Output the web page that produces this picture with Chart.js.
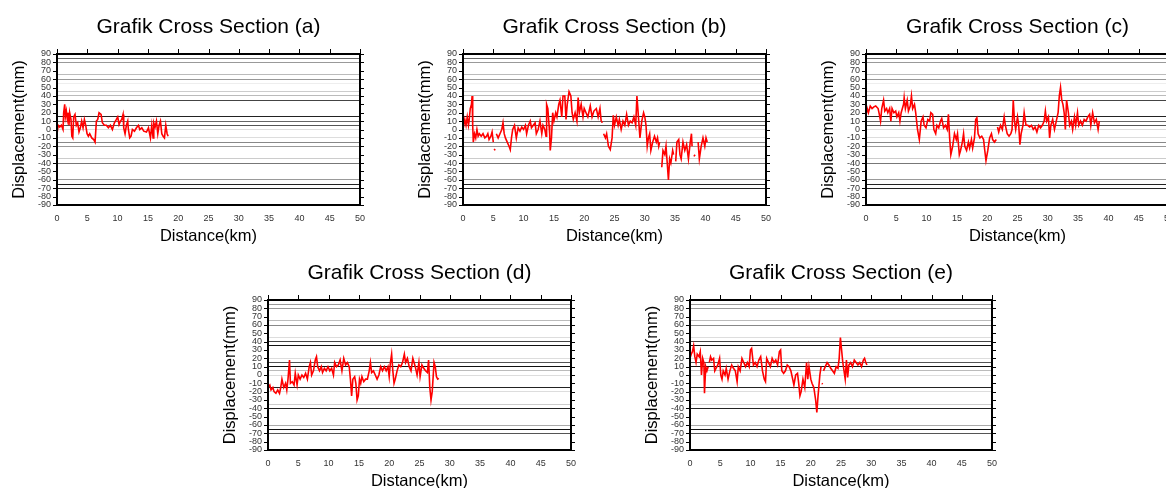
<!DOCTYPE html>
<html lang="en">

<head>
    <meta charset="UTF-8">
    <title>Grafik Cross Section</title>
    <style>
        html, body { margin: 0; padding: 0; background: #fff; overflow: hidden; width: 1166px; height: 488px; }
        canvas { position: absolute; }
    </style>
</head>

<body>
    <canvas id="panel-a" width="395" height="250" style="left:0px;top:0px"></canvas>
    <canvas id="panel-b" width="395" height="250" style="left:400px;top:0px"></canvas>
    <canvas id="panel-c" width="390" height="250" style="left:800px;top:0px"></canvas>
    <canvas id="panel-d" width="400" height="238" style="left:190px;top:250px"></canvas>
    <canvas id="panel-e" width="400" height="238" style="left:610px;top:250px"></canvas>
</body>

<script src="https://cdn.jsdelivr.net/npm/chart.js@4.4.1/dist/chart.umd.min.js"></script>

<script type="text/javascript" charset="utf-8">
    var distA = [0, 0.2, 0.45, 0.72, 0.99, 1.1, 1.27, 1.38, 1.54, 1.71, 1.87, 1.98, 2.09, 2.31, 2.45, 2.6, 2.75, 2.97, 3.19, 3.41,
        3.63, 3.85, 4.07, 4.3, 4.52, 4.74, 4.96, 5.18, 5.4, 5.73, 6.06, 6.28, 6.5, 6.72, 6.94, 7.27, 7.49, 7.82, 8.15, 8.48,
        8.81, 9.14, 9.47, 9.8, 10.02, 10.24, 10.46, 10.68, 10.9, 11.01, 11.23, 11.45, 11.67, 11.78, 12.0, 12.22, 12.44, 12.78, 13.11, 13.44,
        13.66, 13.99, 14.32, 14.76, 15.09, 15.42, 15.64, 15.86, 15.97, 16.19, 16.41, 16.63, 16.85, 17.07, 17.29, 17.51, 17.73, 17.95, 18.17, 18.34];
    var dispA = [-5, 5, 3, 5, 0, 20, 30, 15, 22, 12, 20, 5, 20, 12, -8, -10, 15, 18, 5, 8,
        -3, 2, 10, 2, 12, 5, -5, -8, -5, -10, -12, -15, 10, 12, 20, 18, 8, 5, 5, 2,
        5, 0, 8, 12, 15, 6, 10, 12, 18, 2, -5, 5, 10, 0, -10, -8, 0, -2, 2, 5,
        0, 2, -2, -3, 2, -10, 5, -10, 8, 3, 10, -5, 5, 10, -5, -8, -10, 5, -5, -8];

    var distB = [0, 0.3, 0.5, 0.7, 0.9, 1.0, 1.2, 1.4, 1.5, 1.6, 1.7, 1.9, 2.1, 2.3, 2.5, 2.7, 3.0, 3.3, 3.6, 3.9,
        4.1, 4.3, 4.6, 4.8, 5.0, 5.05, 5.15, 5.3, 5.4, 5.5, 5.8, 6.1, 6.4, 6.6, 6.8, 7.0, 7.3, 7.6, 7.8, 8.0,
        8.2, 8.5, 8.8, 9.1, 9.4, 9.7, 10.0, 10.3, 10.5, 10.8, 11.1, 11.3, 11.6, 11.9, 12.1, 12.4, 12.7, 13.0, 13.2, 13.5,
        13.7, 13.8, 14.0, 14.2, 14.3, 14.4, 14.6, 14.8, 15.0, 15.3, 15.5, 15.8, 16.0, 16.3, 16.5, 16.8, 17.0, 17.2, 17.5, 17.8,
        18.0, 18.2, 18.5, 18.8, 19.0, 19.2, 19.5, 19.8, 20.0, 20.3, 20.6, 21.0, 21.3, 21.6, 22.0, 22.3, 22.6, 22.8, 22.85, 22.9,
        22.95, 23.0, 23.2, 23.5, 23.7, 24.0, 24.3, 24.6, 24.8, 25.0, 25.3, 25.6, 25.8, 26.1, 26.4, 26.7, 27.0, 27.3, 27.6, 27.9,
        28.2, 28.5, 28.7, 29.0, 29.2, 29.5, 29.8, 30.0, 30.2, 30.4, 30.6, 30.8, 31.0, 31.3, 31.6, 31.9, 32.1, 32.3, 32.45, 32.6,
        32.8, 33.0, 33.3, 33.5, 33.7, 33.9, 34.1, 34.3, 34.6, 34.75, 34.9, 35.1, 35.3, 35.6, 35.8, 36.0, 36.3, 36.6, 36.9, 37.2,
        37.5, 37.7, 37.8, 37.9, 38.1, 38.3, 38.5, 38.8, 39.0, 39.3, 39.6, 39.9, 40.1, 40.3];
    var dispB = [0, 12, 5, 15, 5, 10, 25, 30, 40, 5, -15, -5, -10, 0, -8, -5, -8, -5, -10, -8,
        -5, -12, -8, -3, -15, null, -23, -25, null, -5, -10, -5, 0, 8, -5, -10, -15, -20, -24, -10,
        0, 5, -10, 2, -2, 3, 0, 5, -5, 5, 10, 2, 5, 8, -5, 0, 10, -5, 5, 0,
        -8, 30, 25, 5, -5, -25, -10, 20, 10, 20, 15, 30, 35, 15, 40, 40, 12, 30, 45, 40,
        20, 12, 20, 10, 38, 20, 30, 15, 25, 20, 15, 28, 15, 22, 25, 15, 25, 10, null, 10,
        8, null, -5, -10, -5, -20, -24, -10, 17, 5, 15, 5, 12, 0, 10, 5, 18, 5, 10, 8,
        15, 5, 40, 10, -10, 10, 20, 15, 5, -20, -10, -5, -25, -15, -8, -15, -10, -20, -15, null,
        -45, -25, -30, -20, -40, -60, -35, -40, -25, -30, null, -38, -15, -12, -30, -35, -15, -25, -18, -35,
        -15, -5, -20, null, -32, -30, null, -15, -35, -20, -10, -20, -10, -15, -12];

    var distC = [0, 0.2, 0.4, 0.7, 1.0, 1.3, 1.6, 2.0, 2.2, 2.4, 2.6, 2.9, 3.1, 3.4, 3.6, 3.9, 4.1, 4.3, 4.6, 4.9,
        5.1, 5.4, 5.6, 5.8, 6.0, 6.2, 6.3, 6.5, 6.8, 7.0, 7.3, 7.5, 7.7, 8.0, 8.2, 8.5, 8.8, 9.1, 9.4, 9.6,
        9.9, 10.2, 10.5, 10.7, 11.0, 11.2, 11.5, 11.7, 12.0, 12.3, 12.5, 12.8, 13.1, 13.4, 13.6, 13.8, 14.0, 14.3, 14.6, 14.9,
        15.1, 15.4, 15.6, 15.9, 16.1, 16.3, 16.6, 16.9, 17.1, 17.4, 17.6, 17.9, 18.1, 18.3, 18.5, 18.8, 19.1, 19.4, 19.6, 19.8,
        20.1, 20.4, 20.7, 20.9, 21.2, 21.5, 21.6, 21.7, 21.9, 22.2, 22.5, 22.8, 23.0, 23.3, 23.6, 23.9, 24.1, 24.3, 24.5, 24.7,
        25.0, 25.2, 25.4, 25.6, 25.9, 26.1, 26.4, 26.7, 27.0, 27.3, 27.6, 27.9, 28.2, 28.5, 28.8, 29.1, 29.4, 29.6, 29.8, 30.1,
        30.3, 30.5, 30.8, 31.1, 31.4, 31.7, 31.9, 32.1, 32.3, 32.5, 32.7, 32.9, 33.1, 33.4, 33.6, 33.9, 34.1, 34.4, 34.6, 34.9,
        35.1, 35.4, 35.7, 36.0, 36.3, 36.6, 36.9, 37.1, 37.4, 37.7, 38.0, 38.3, 38.5];
    var dispC = [18, 25, 20, 28, 25, 27, 28, 25, 18, 10, 25, 35, 22, 25, 20, 25, 10, 25, 20, 22,
        15, 20, 10, 20, 25, 30, 38, 25, 35, 22, 28, 40, 25, 30, 20, 0, -12, 10, 15, 5,
        2, 12, 10, 20, 18, 0, -5, 5, 2, 10, 13, 2, 5, 0, 18, -10, -30, -20, -5, -12,
        -5, -30, -25, -15, -5, -20, -25, -15, -22, -12, -22, -10, 12, 14, -5, -10, -8, -12, -25, -37,
        -25, -10, -5, -12, -15, -12, null, 3, -3, 5, 0, 15, 5, -5, -8, -5, 0, 35, 10, 0,
        15, 5, -18, -5, 5, 20, 5, 5, 3, 5, 0, 3, -3, 5, 2, 5, 10, 22, 10, 15,
        -10, 5, 12, 0, 10, 20, 40, 50, 35, 30, 20, 0, 35, 20, 5, 10, 0, 15, 5, 20,
        5, 10, 5, 12, 10, 15, 18, 5, 20, 8, 12, 0, 10];

    var distD = [0, 0.3, 0.5, 0.8, 1.0, 1.3, 1.6, 1.9, 2.1, 2.3, 2.6, 2.9, 3.1, 3.3, 3.55, 3.7, 4.0, 4.3, 4.5, 4.8,
        5.0, 5.3, 5.6, 5.9, 6.2, 6.5, 6.8, 7.0, 7.2, 7.5, 7.8, 8.0, 8.2, 8.5, 8.8, 9.0, 9.3, 9.6, 9.9, 10.2,
        10.5, 10.8, 11.0, 11.3, 11.6, 11.9, 12.2, 12.5, 12.8, 13.1, 13.4, 13.6, 13.8, 14.0, 14.3, 14.5, 14.7, 14.9, 15.1, 15.3,
        15.5, 15.8, 16.1, 16.4, 16.7, 16.9, 17.1, 17.4, 17.7, 18.0, 18.3, 18.6, 18.9, 19.2, 19.5, 19.8, 20.0, 20.2, 20.4, 20.6,
        20.8, 21.0, 21.3, 21.6, 21.9, 22.2, 22.5, 22.7, 23.0, 23.3, 23.6, 23.9, 24.1, 24.3, 24.6, 24.9, 25.1, 25.4, 25.7, 26.0,
        26.3, 26.5, 26.7, 26.9, 27.1, 27.4, 27.6, 27.8, 28.0, 28.2];
    var dispD = [-15, -12, -18, -15, -20, -22, -18, -22, -15, -5, -15, -10, -18, -5, 18, -10, -8, -12, 2, -12,
        0, -5, 0, -3, 2, -5, 10, 15, 0, 5, 18, 22, 10, 5, 10, 3, 8, 5, 10, 5,
        8, 0, 15, 10, 12, 18, 5, 20, 12, 15, 10, -5, -25, -5, -2, -10, -30, -25, -5, -10,
        -2, -8, -5, -5, 5, 15, 3, 5, 0, -5, 0, 10, 5, 10, 5, 10, -2, 15, 25, 5,
        -10, -5, 5, 12, 10, 15, 25, 15, 20, 10, 5, 20, 15, 10, 0, 15, -2, 12, 8, 5,
        3, 18, -15, -30, -20, 15, 10, -2, -5, -4];

    var distE = [0, 0.2, 0.4, 0.6, 0.8, 1.0, 1.2, 1.5, 1.7, 1.9, 2.1, 2.3, 2.4, 2.6, 2.8, 3.0, 3.1, 3.2, 3.4, 3.6,
        3.9, 4.1, 4.3, 4.6, 4.9, 5.1, 5.3, 5.5, 5.8, 6.0, 6.3, 6.6, 6.9, 7.2, 7.5, 7.8, 8.0, 8.3, 8.6, 8.9,
        9.2, 9.5, 9.8, 10.0, 10.2, 10.5, 10.8, 11.1, 11.4, 11.7, 12.0, 12.3, 12.5, 12.7, 13.0, 13.3, 13.6, 13.9, 14.2, 14.5,
        14.8, 15.0, 15.2, 15.5, 15.8, 16.1, 16.4, 16.7, 17.0, 17.2, 17.5, 17.8, 18.0, 18.2, 18.4, 18.7, 19.0, 19.3, 19.5, 19.7,
        20.0, 20.2, 20.5, 20.8, 21.0, 21.2, 21.5, 21.7, 21.8, 21.85, 21.95, 22.0, 22.1, 22.4, 22.7, 23.0, 23.3, 23.6, 23.9, 24.2,
        24.5, 24.7, 24.9, 25.1, 25.3, 25.5, 25.7, 25.9, 26.1, 26.3, 26.6, 26.9, 27.2, 27.5, 27.8, 28.1, 28.4, 28.7, 28.9, 29.1,
        29.3];
    var dispE = [20, 25, 28, 35, 22, 15, 25, 22, 28, 0, 20, 15, -22, 10, 5, 10, null, 15, 22, 18,
        20, 5, 8, 12, 20, 0, -5, 5, 0, 8, -5, 5, 12, 8, 5, -8, 10, 5, 20, 15,
        10, 15, 10, 30, 32, 12, 15, 10, 18, 22, 5, -5, -8, 20, 15, 10, 20, 15, 18, 12,
        28, 30, 5, 2, 5, 12, 10, 5, -5, -12, 0, 2, -10, -25, -20, -5, -15, 15, -5, 10,
        -5, -10, -15, -30, -45, -25, 0, 10, null, -10, -11, null, 5, 10, 15, 12, 8, 5, 2, 10,
        8, 20, 45, 30, 15, 5, -5, 18, -3, 12, 15, 10, 18, 15, 12, 15, 10, 18, 20, 15,
        12];

    var panelLabels = ['(a)', '(b)', '(c)', '(d)', '(e)'];
    var xTitle = 'Distance(km)';
    var yTitle = 'Displacement(mm)';

    // Horizontal rule shades (the scanned grid has uneven weights)
    var gridTop = { 85: '#666', 80: '#999', 65: '#bbb', 60: '#999', 55: '#eee', 45: '#ccc', 40: '#bbb', 35: '#444',
        15: '#222', 10: '#666', 5: '#555', 0: '#ddd', '-10': '#ddd', '-15': '#888', '-20': '#999',
        '-35': '#ccc', '-40': '#777', '-60': '#999', '-65': '#222', '-70': '#222' };
    var gridBottom = { 85: '#999', 80: '#999', 65: '#bbb', 60: '#888', 45: '#ddd', 40: '#444', 35: '#111', 20: '#ddd',
        15: '#555', 10: '#111', 5: '#bbb', 0: '#ddd', '-15': '#222', '-20': '#ddd', '-35': '#ccc',
        '-40': '#222', '-60': '#aaa', '-65': '#111', '-70': '#555' };

    // Frame, outer ticks and titles
    var framePlugin = {
        id: 'frame',
        afterDraw: function (chart) {
            var ctx = chart.ctx, a = chart.chartArea;
            var sx = chart.scales.x, sy = chart.scales.y;
            ctx.save();
            ctx.strokeStyle = '#000';
            ctx.lineWidth = 1;
            ctx.beginPath();
            sx.ticks.forEach(function (t) {
                var px = Math.round(sx.getPixelForValue(t.value)) + 0.5;
                ctx.moveTo(px, a.top);
                ctx.lineTo(px, a.top - 5);
            });
            sy.ticks.forEach(function (t) {
                if (t.value % 10 !== 0) return;
                var py = Math.round(sy.getPixelForValue(t.value)) + 0.5;
                ctx.moveTo(a.left - 4, py);
                ctx.lineTo(a.left, py);
                ctx.moveTo(a.right, py);
                ctx.lineTo(a.right + 4, py);
            });
            ctx.stroke();
            ctx.lineWidth = 2;
            ctx.strokeRect(a.left, a.top, a.right - a.left, a.bottom - a.top);

            var cx = (a.left + a.right) / 2;
            ctx.fillStyle = '#000';
            ctx.textAlign = 'center';
            ctx.textBaseline = 'middle';
            ctx.font = '21px "Liberation Sans", Arial, sans-serif';
            ctx.fillText('Grafik Cross Section ' + chart.options.plugins.frame.label, cx, a.top - 27);
            ctx.font = '16.5px "Liberation Sans", Arial, sans-serif';
            ctx.fillText(xTitle, cx, a.bottom + 31.5);
            ctx.translate(a.left - 37.5, (a.top + a.bottom) / 2);
            ctx.rotate(-Math.PI / 2);
            ctx.fillText(yTitle, 0, 0);
            ctx.restore();
        }
    };

    function makePanel(id, dist, disp, label, grid, plot) {
        var canvas = document.getElementById(id);
        var points = dist.map(function (d, i) { return { x: d, y: disp[i] }; });
        var left = parseFloat(canvas.style.left), top = parseFloat(canvas.style.top);
        return new Chart(canvas.getContext('2d'), {
            type: 'line',
            data: {
                datasets: [{
                    data: points,
                    borderColor: '#ff0000',
                    borderWidth: 1.6,
                    pointRadius: 0,
                    tension: 0,
                    spanGaps: false
                }]
            },
            options: {
                responsive: false,
                animation: false,
                layout: {
                    padding: { left: 0, top: plot[1] - top, right: left + canvas.width - plot[2], bottom: 0 }
                },
                plugins: {
                    legend: { display: false },
                    tooltip: { enabled: false },
                    frame: { label: label }
                },
                scales: {
                    x: {
                        type: 'linear',
                        min: 0,
                        max: 50,
                        ticks: { stepSize: 5, padding: 8, maxRotation: 0, color: '#333',
                            font: { family: '"Liberation Sans", Arial, sans-serif', size: 9 } },
                        grid: { display: false, drawTicks: false },
                        border: { display: false },
                        afterFit: function (s) { s.height = top + canvas.height - plot[3]; }
                    },
                    y: {
                        min: -90,
                        max: 90,
                        ticks: {
                            stepSize: 5, padding: 6, color: '#333', autoSkip: false,
                            font: { family: '"Liberation Sans", Arial, sans-serif', size: 9 },
                            callback: function (v) { return v % 10 === 0 ? v : ''; }
                        },
                        grid: {
                            drawTicks: false,
                            lineWidth: 1,
                            color: function (c) { return grid[c.tick.value] || 'rgba(0,0,0,0)'; }
                        },
                        border: { display: false },
                        afterFit: function (s) { s.width = plot[0] - left; }
                    }
                }
            },
            plugins: [framePlugin]
        });
    }

    makePanel('panel-a', distA, dispA, panelLabels[0], gridTop, [57, 54, 360, 205]);
    makePanel('panel-b', distB, dispB, panelLabels[1], gridTop, [463, 54, 766, 205]);
    makePanel('panel-c', distC, dispC, panelLabels[2], gridTop, [866, 54, 1169, 205]);
    makePanel('panel-d', distD, dispD, panelLabels[3], gridBottom, [268, 300, 571, 450]);
    makePanel('panel-e', distE, dispE, panelLabels[4], gridBottom, [690, 300, 992, 450]);
</script>

</html>
